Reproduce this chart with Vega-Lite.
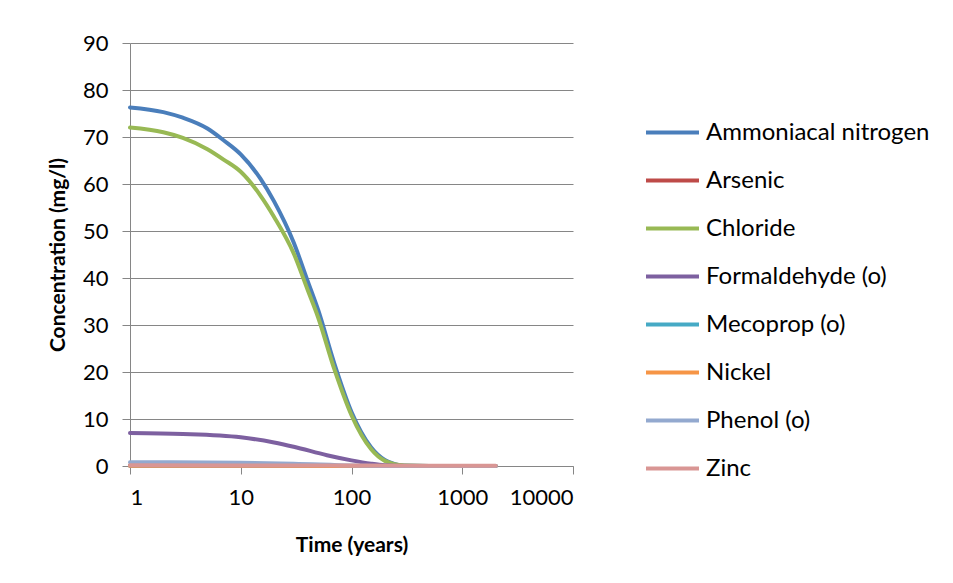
{
  "$schema": "https://vega.github.io/schema/vega-lite/v6.json",
  "width": 443,
  "height": 423,
  "autosize": "none",
  "padding": {"left": 130, "top": 43, "right": 380, "bottom": 117},
  "background": "white",
  "config": {
    "font": "Lato",
    "view": {"stroke": null},
    "axis": {
      "gridColor": "#868686",
      "domainColor": "#868686",
      "tickColor": "#868686",
      "labelColor": "#000000",
      "titleColor": "#000000",
      "labelFont": "Lato",
      "titleFont": "Lato",
      "labelFontSize": 22,
      "titleFontSize": 21,
      "titleFontWeight": "bold",
      "tickSize": 8,
      "labelPadding": 10
    }
  },
  "data": {
    "values": [
      {"t": 1, "s": "Ammoniacal nitrogen", "v": 76.3},
      {"t": 2, "s": "Ammoniacal nitrogen", "v": 75.3},
      {"t": 3, "s": "Ammoniacal nitrogen", "v": 74.1},
      {"t": 5, "s": "Ammoniacal nitrogen", "v": 71.8},
      {"t": 7, "s": "Ammoniacal nitrogen", "v": 69.3},
      {"t": 10, "s": "Ammoniacal nitrogen", "v": 66.3},
      {"t": 15, "s": "Ammoniacal nitrogen", "v": 61.2},
      {"t": 20, "s": "Ammoniacal nitrogen", "v": 56.3},
      {"t": 30, "s": "Ammoniacal nitrogen", "v": 47.6},
      {"t": 40, "s": "Ammoniacal nitrogen", "v": 39.5},
      {"t": 50, "s": "Ammoniacal nitrogen", "v": 33.2},
      {"t": 70, "s": "Ammoniacal nitrogen", "v": 21.8},
      {"t": 100, "s": "Ammoniacal nitrogen", "v": 11.5},
      {"t": 150, "s": "Ammoniacal nitrogen", "v": 4.0},
      {"t": 200, "s": "Ammoniacal nitrogen", "v": 1.3},
      {"t": 300, "s": "Ammoniacal nitrogen", "v": 0.1},
      {"t": 500, "s": "Ammoniacal nitrogen", "v": 0},
      {"t": 1000, "s": "Ammoniacal nitrogen", "v": 0},
      {"t": 2000, "s": "Ammoniacal nitrogen", "v": 0},
      {"t": 1, "s": "Arsenic", "v": 0.05},
      {"t": 100, "s": "Arsenic", "v": 0.02},
      {"t": 2000, "s": "Arsenic", "v": 0},
      {"t": 1, "s": "Chloride", "v": 72.0},
      {"t": 2, "s": "Chloride", "v": 71.0},
      {"t": 3, "s": "Chloride", "v": 69.8},
      {"t": 5, "s": "Chloride", "v": 67.4},
      {"t": 7, "s": "Chloride", "v": 65.2},
      {"t": 10, "s": "Chloride", "v": 62.6},
      {"t": 15, "s": "Chloride", "v": 57.6},
      {"t": 20, "s": "Chloride", "v": 53.0},
      {"t": 30, "s": "Chloride", "v": 45.3},
      {"t": 40, "s": "Chloride", "v": 37.6},
      {"t": 50, "s": "Chloride", "v": 31.6},
      {"t": 70, "s": "Chloride", "v": 20.6},
      {"t": 100, "s": "Chloride", "v": 10.8},
      {"t": 150, "s": "Chloride", "v": 3.6},
      {"t": 200, "s": "Chloride", "v": 1.1},
      {"t": 300, "s": "Chloride", "v": 0.1},
      {"t": 500, "s": "Chloride", "v": 0},
      {"t": 1000, "s": "Chloride", "v": 0},
      {"t": 2000, "s": "Chloride", "v": 0},
      {"t": 1, "s": "Formaldehyde (o)", "v": 7.0},
      {"t": 3, "s": "Formaldehyde (o)", "v": 6.8},
      {"t": 10, "s": "Formaldehyde (o)", "v": 6.1},
      {"t": 20, "s": "Formaldehyde (o)", "v": 5.0},
      {"t": 30, "s": "Formaldehyde (o)", "v": 4.1},
      {"t": 60, "s": "Formaldehyde (o)", "v": 2.3},
      {"t": 100, "s": "Formaldehyde (o)", "v": 1.2},
      {"t": 150, "s": "Formaldehyde (o)", "v": 0.5},
      {"t": 200, "s": "Formaldehyde (o)", "v": 0.15},
      {"t": 300, "s": "Formaldehyde (o)", "v": 0},
      {"t": 1000, "s": "Formaldehyde (o)", "v": 0},
      {"t": 2000, "s": "Formaldehyde (o)", "v": 0},
      {"t": 1, "s": "Mecoprop (o)", "v": 0.05},
      {"t": 100, "s": "Mecoprop (o)", "v": 0.02},
      {"t": 2000, "s": "Mecoprop (o)", "v": 0},
      {"t": 1, "s": "Nickel", "v": 0.05},
      {"t": 100, "s": "Nickel", "v": 0.02},
      {"t": 2000, "s": "Nickel", "v": 0},
      {"t": 1, "s": "Phenol (o)", "v": 0.8},
      {"t": 10, "s": "Phenol (o)", "v": 0.7},
      {"t": 30, "s": "Phenol (o)", "v": 0.5},
      {"t": 100, "s": "Phenol (o)", "v": 0.1},
      {"t": 200, "s": "Phenol (o)", "v": 0},
      {"t": 2000, "s": "Phenol (o)", "v": 0},
      {"t": 1, "s": "Zinc", "v": 0.15},
      {"t": 100, "s": "Zinc", "v": 0.1},
      {"t": 2000, "s": "Zinc", "v": 0.05}
    ]
  },
  "mark": {"type": "line", "strokeWidth": 4, "interpolate": "monotone", "strokeCap": "round"},
  "encoding": {
    "x": {
      "field": "t", "type": "quantitative",
      "scale": {"type": "log", "domain": [1, 10000]},
      "axis": {"values": [1, 10, 100, 1000, 10000], "grid": false, "title": "Time (years)", "titlePadding": 26, "labelPadding": 13, "format": "d"}
    },
    "y": {
      "field": "v", "type": "quantitative",
      "scale": {"domain": [0, 90]},
      "axis": {"values": [0, 10, 20, 30, 40, 50, 60, 70, 80, 90], "title": "Concentration (mg/l)", "titlePadding": 14, "labelPadding": 14}
    },
    "color": {
      "field": "s", "type": "nominal",
      "scale": {
        "domain": ["Ammoniacal nitrogen", "Arsenic", "Chloride", "Formaldehyde (o)", "Mecoprop (o)", "Nickel", "Phenol (o)", "Zinc"],
        "range": ["#4A7EBB", "#BE4B48", "#98B954", "#7D60A0", "#46AAC5", "#F69546", "#93A9CF", "#D99694"]
      },
      "legend": {
        "title": null,
        "orient": "none",
        "legendX": 514,
        "legendY": 61,
        "symbolType": "stroke",
        "symbolSize": 2809,
        "symbolStrokeWidth": 4,
        "labelFontSize": 24,
        "labelFont": "Lato",
        "labelColor": "#000000",
        "labelOffset": 5,
        "rowPadding": 7,
        "labelLimit": 300
      }
    }
  }
}
